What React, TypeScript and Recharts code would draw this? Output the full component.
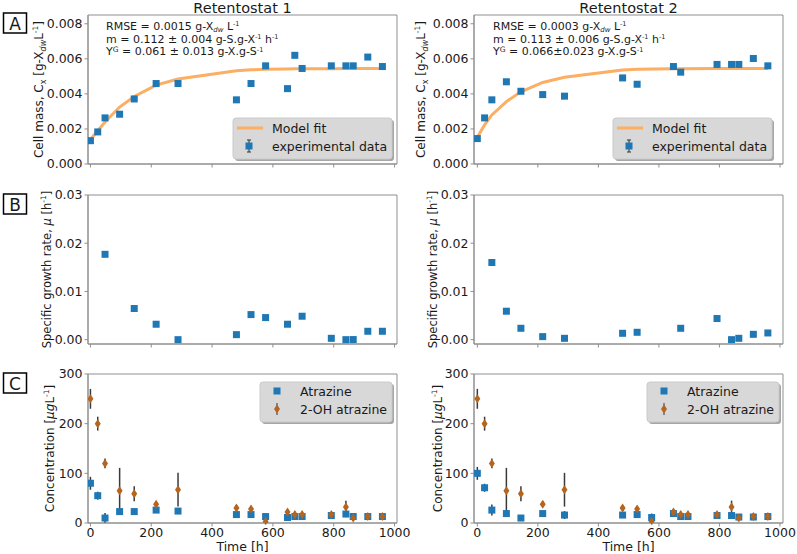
import React from 'react'
import { ComposedChart, Line, Scatter, XAxis, YAxis, ErrorBar, ReferenceArea } from 'recharts'

// sampling times [h]
const timesAll = [0, 24, 48, 96, 144, 216, 288, 480, 528, 576, 648, 672, 696, 792, 840, 864, 912, 960]
const timesA2 = [0, 24, 48, 96, 144, 216, 288, 480, 528, 648, 672, 792, 840, 864, 912, 960]
const timesB1 = [48, 144, 216, 288, 480, 528, 576, 648, 696, 792, 840, 864, 912, 960]
const timesB2 = [48, 96, 144, 216, 288, 480, 528, 672, 792, 840, 864, 912, 960]

// panel A: cell mass [g/L]
const cellMass1 = [0.00133, 0.00183, 0.00263, 0.00284, 0.00371, 0.00459, 0.00459, 0.00366, 0.00459, 0.0056, 0.0043, 0.0062, 0.00545, 0.0056, 0.0056, 0.0056, 0.0061, 0.00556]
const modelFit1 = [0.0014, 0.0019, 0.0024, 0.00325, 0.00385, 0.0045, 0.00485, 0.00532, 0.00537, 0.0054, 0.00542, 0.00543, 0.00543, 0.00544, 0.00545, 0.00545, 0.00545, 0.00545]
const cellMass2 = [0.00145, 0.00263, 0.00366, 0.00469, 0.00415, 0.00396, 0.00387, 0.00491, 0.00455, 0.00556, 0.00524, 0.00568, 0.00568, 0.00568, 0.00602, 0.0056]
const modelFit2 = [0.00152, 0.00223, 0.0028, 0.00356, 0.00412, 0.00465, 0.00495, 0.00536, 0.0054, 0.00543, 0.00544, 0.00545, 0.00545, 0.00545, 0.00545, 0.00545]

// panel B: specific growth rate [1/h]
const mu1 = [0.0177, 0.00646, 0.0032, 0.0, 0.00104, 0.0052, 0.00458, 0.0032, 0.00486, 0.00028, 0.0, 0.00002, 0.00174, 0.00174]
const mu2 = [0.016, 0.0059, 0.00236, 0.00063, 0.00028, 0.00132, 0.00153, 0.00236, 0.00438, 0.0, 0.00028, 0.00111, 0.00139]

// panel C: concentrations [ug/L]
const atrazine1 = [80, 55, 10, 23, 23, 26, 24, 17, 17, 13, 11, 13, 13, 15, 18, 13, 13, 13]
const atrazineErr1 = [13, 8, 10, 4, 6, 4, 4, 4, 4, 4, 3, 3, 3, 3, 4, 3, 3, 3]
const atrazine2 = [100, 71, 26, 19, 10, 19, 16, 16, 17, 11, 19, 13, 13, 15, 15, 12, 12, 13]
const atrazineErr2 = [13, 8, 11, 4, 5, 4, 8, 4, 4, 8, 4, 3, 3, 3, 3, 3, 3, 3]
const hydroxy = [250, 200, 120, 65, 59, 38, 67, 30, 28, 3, 22, 17, 17, 17, 32, 10, 13, 13]
const hydroxyErr = [20, 14, 10, 46, 15, 6, 34, 6, 6, 6, 6, 6, 6, 5, 13, 6, 6, 6]

const xTicks = [0, 200, 400, 600, 800, 1000]
const massTicks = [0, 0.002, 0.004, 0.006, 0.008]
const muTicks = [0, 0.01, 0.02, 0.03]
const concTicks = [0, 100, 200, 300]

const BLUE = '#1f77b4'
const BROWN = '#b5651d'
const FIT = '#fcae62'
const SPINE = '#8f8f8f'
const INK = '#1a1a1a'
const FONT = '"DejaVu Sans", sans-serif'

const pts = (xs: number[], ys: number[], es?: number[]) => xs.map((x, i) => ({ x, y: ys[i], err: es ? es[i] : 0 }))

const Square = (p: any) => <rect x={p.cx - 3.5} y={p.cy - 3.5} width={7} height={7} fill={BLUE} />
const Diamond = (p: any) => (
  <polygon points={`${p.cx},${p.cy - 4.5} ${p.cx + 3},${p.cy} ${p.cx},${p.cy + 4.5} ${p.cx - 3},${p.cy}`} fill={BROWN} />
)

const YW = 60
const MT = 10
const MR = 20
const XH = 30
const PW = 309
const PH = 149

type PanelProps = {
  left: number
  top: number
  xDomain: [number, number]
  yDomain: [number, number]
  yTicks: number[]
  yFmt: (v: number) => string
  showX: boolean
  children: React.ReactNode
}

const Panel = ({ left, top, xDomain, yDomain, yTicks, yFmt, showX, children }: PanelProps) => (
  <div style={{ position: 'absolute', left: left - YW, top: top - MT }}>
    <ComposedChart width={YW + PW + MR} height={MT + PH + XH} margin={{ top: MT, right: MR, bottom: 0, left: 0 }}>
      <XAxis
        type='number'
        dataKey='x'
        domain={xDomain}
        ticks={xTicks}
        interval={0}
        allowDataOverflow
        height={XH}
        stroke={SPINE}
        tickSize={3.5}
        tickMargin={2}
        tick={showX ? { fill: INK, fontSize: 12.5, fontFamily: FONT } : () => <g />}
      />
      <YAxis
        type='number'
        domain={yDomain}
        ticks={yTicks}
        interval={0}
        allowDataOverflow
        width={YW}
        stroke={SPINE}
        tickSize={3.5}
        tickMargin={2}
        tickFormatter={yFmt}
        tick={{ fill: INK, fontSize: 12.5, fontFamily: FONT }}
      />
      <ReferenceArea x1={xDomain[0]} x2={xDomain[1]} y1={yDomain[0]} y2={yDomain[1]} fill='none' stroke={SPINE} strokeWidth={1} ifOverflow='visible' />
      {children}
    </ComposedChart>
  </div>
)

const MassLabel = ({ x, y }: { x: number; y: number }) => (
  <text transform={`translate(${x},${y}) rotate(-90)`} textAnchor='middle' fontSize={12}>
    <tspan>Cell mass, C</tspan>
    <tspan dy={3} fontSize={8}>x</tspan>
    <tspan dy={-3}> [g-X</tspan>
    <tspan dy={3} fontSize={8} fontStyle='italic'>dw</tspan>
    <tspan dy={-3}>L</tspan>
    <tspan dy={-5} fontSize={7.5}>-1</tspan>
    <tspan dy={5}>]</tspan>
  </text>
)

const MuLabel = ({ x, y }: { x: number; y: number }) => (
  <text transform={`translate(${x},${y}) rotate(-90)`} textAnchor='middle' fontSize={11.5}>
    <tspan>Specific growth rate, </tspan>
    <tspan fontStyle='italic'>μ</tspan>
    <tspan> [h</tspan>
    <tspan dy={-5} fontSize={7.5}>-1</tspan>
    <tspan dy={5}>]</tspan>
  </text>
)

const ConcLabel = ({ x, y }: { x: number; y: number }) => (
  <text transform={`translate(${x},${y}) rotate(-90)`} textAnchor='middle' fontSize={12}>
    <tspan>Concentration [</tspan>
    <tspan fontStyle='italic'>μg</tspan>
    <tspan>L</tspan>
    <tspan dy={-5} fontSize={7.5}>-1</tspan>
    <tspan dy={5}>]</tspan>
  </text>
)

const Stats = ({ x, rmse, m, y }: { x: number; rmse: string; m: string; y: string }) => (
  <g fontSize={11}>
    <text x={x} y={30}>
      <tspan>RMSE = {rmse} g-X</tspan>
      <tspan dy={1.5} fontSize={7} fontStyle='italic'>dw</tspan>
      <tspan dy={-1.5}> L</tspan>
      <tspan dy={-4} fontSize={6.5}>-1</tspan>
    </text>
    <text x={x} y={42.5}>
      <tspan>m = {m} g-S.g-X</tspan>
      <tspan dy={-3.5} fontSize={6.5}>-1</tspan>
      <tspan dy={3.5}> h</tspan>
      <tspan dy={-3.5} fontSize={6.5}>-1</tspan>
    </text>
    <text x={x} y={55}>
      <tspan>Y</tspan>
      <tspan dy={-3.5} fontSize={7.5}>G</tspan>
      <tspan dy={3.5}> = {y} g-X.g-S</tspan>
      <tspan dy={-3.5} fontSize={6.5}>-1</tspan>
    </text>
  </g>
)

const LegendBox = ({ x, y, w, h }: { x: number; y: number; w: number; h: number }) => (
  <g>
    <rect x={x + 2} y={y + 2} width={w} height={h} rx={3} fill='#a6a6a6' />
    <rect x={x} y={y} width={w} height={h} rx={3} fill='#d8d8d8' stroke='#cacaca' />
  </g>
)

const FitLegend = ({ x, y }: { x: number; y: number }) => (
  <g fontSize={12.5}>
    <LegendBox x={x} y={y} w={159} h={41} />
    <line x1={x + 4} x2={x + 30} y1={y + 10} y2={y + 10} stroke={FIT} strokeWidth={3} />
    <text x={x + 39} y={y + 14.5}>Model fit</text>
    <line x1={x + 16} x2={x + 16} y1={y + 22} y2={y + 34} stroke='#333' strokeWidth={1} />
    <line x1={x + 14} x2={x + 18} y1={y + 22} y2={y + 22} stroke='#333' strokeWidth={1} />
    <line x1={x + 14} x2={x + 18} y1={y + 34} y2={y + 34} stroke='#333' strokeWidth={1} />
    <rect x={x + 12.5} y={y + 24.5} width={7} height={7} fill={BLUE} />
    <text x={x + 39} y={y + 33}>experimental data</text>
  </g>
)

const ConcLegend = ({ x, y }: { x: number; y: number }) => (
  <g fontSize={12.5}>
    <LegendBox x={x} y={y} w={132} h={40} />
    <rect x={x + 13.5} y={y + 5.5} width={7} height={7} fill={BLUE} />
    <text x={x + 40} y={y + 13.5}>Atrazine</text>
    <line x1={x + 17} x2={x + 17} y1={y + 21} y2={y + 33} stroke='#333' strokeWidth={1} />
    <polygon points={`${x + 17},${y + 22.5} ${x + 20},${y + 27} ${x + 17},${y + 31.5} ${x + 14},${y + 27}`} fill={BROWN} />
    <text x={x + 40} y={y + 31.5}>2-OH atrazine</text>
  </g>
)

const PanelTag = ({ y, label }: { y: number; label: string }) => (
  <g>
    <rect x={3.5} y={y} width={23} height={20} fill='white' stroke='#000' strokeWidth={1.5} />
    <text x={15} y={y + 16.5} textAnchor='middle' fontSize={17}>{label}</text>
  </g>
)

const fmt3 = (v: number) => v.toFixed(3)
const fmt2 = (v: number) => v.toFixed(2)
const fmt0 = (v: number) => String(v)

const L1 = 88
const L2 = 474
const TA = 15
const TB = 195
const TC = 374
const X1: [number, number] = [-8, 1008]
const X2: [number, number] = [-11, 1010]
const YA: [number, number] = [0, 0.0085]
const YB: [number, number] = [-0.0009, 0.03]
const YC: [number, number] = [0, 300]

export default function App() {
  return (
    <div style={{ position: 'absolute', left: 0, top: 0, width: 797, height: 554, background: 'white', fontFamily: FONT }}>
      <Panel left={L1} top={TA} xDomain={X1} yDomain={YA} yTicks={massTicks} yFmt={fmt3} showX={false}>
        <Line data={pts(timesAll, modelFit1)} dataKey='y' type='linear' stroke={FIT} strokeWidth={3} dot={false} isAnimationActive={false} />
        <Scatter data={pts(timesAll, cellMass1)} dataKey='y' shape={Square} isAnimationActive={false} />
      </Panel>
      <Panel left={L2} top={TA} xDomain={X2} yDomain={YA} yTicks={massTicks} yFmt={fmt3} showX={false}>
        <Line data={pts(timesA2, modelFit2)} dataKey='y' type='linear' stroke={FIT} strokeWidth={3} dot={false} isAnimationActive={false} />
        <Scatter data={pts(timesA2, cellMass2)} dataKey='y' shape={Square} isAnimationActive={false} />
      </Panel>
      <Panel left={L1} top={TB} xDomain={X1} yDomain={YB} yTicks={muTicks} yFmt={fmt2} showX={false}>
        <Scatter data={pts(timesB1, mu1)} dataKey='y' shape={Square} isAnimationActive={false} />
      </Panel>
      <Panel left={L2} top={TB} xDomain={X2} yDomain={YB} yTicks={muTicks} yFmt={fmt2} showX={false}>
        <Scatter data={pts(timesB2, mu2)} dataKey='y' shape={Square} isAnimationActive={false} />
      </Panel>
      <Panel left={L1} top={TC} xDomain={X1} yDomain={YC} yTicks={concTicks} yFmt={fmt0} showX>
        <Scatter data={pts(timesAll, atrazine1, atrazineErr1)} dataKey='y' shape={Square} isAnimationActive={false}>
          <ErrorBar dataKey='err' direction='y' width={0} stroke='#3a3a3a' strokeWidth={1.5} />
        </Scatter>
        <Scatter data={pts(timesAll, hydroxy, hydroxyErr)} dataKey='y' shape={Diamond} isAnimationActive={false}>
          <ErrorBar dataKey='err' direction='y' width={0} stroke='#3a3a3a' strokeWidth={1.5} />
        </Scatter>
      </Panel>
      <Panel left={L2} top={TC} xDomain={X2} yDomain={YC} yTicks={concTicks} yFmt={fmt0} showX>
        <Scatter data={pts(timesAll, atrazine2, atrazineErr2)} dataKey='y' shape={Square} isAnimationActive={false}>
          <ErrorBar dataKey='err' direction='y' width={0} stroke='#3a3a3a' strokeWidth={1.5} />
        </Scatter>
        <Scatter data={pts(timesAll, hydroxy, hydroxyErr)} dataKey='y' shape={Diamond} isAnimationActive={false}>
          <ErrorBar dataKey='err' direction='y' width={0} stroke='#3a3a3a' strokeWidth={1.5} />
        </Scatter>
      </Panel>

      <svg width={797} height={554} style={{ position: 'absolute', left: 0, top: 0, pointerEvents: 'none' }} fill={INK} fontFamily={FONT}>
        <text x={L1 + PW / 2} y={13} textAnchor='middle' fontSize={14.5}>Retentostat 1</text>
        <text x={L2 + PW / 2} y={13} textAnchor='middle' fontSize={14.5}>Retentostat 2</text>

        <PanelTag y={13} label='A' />
        <PanelTag y={194} label='B' />
        <PanelTag y={373} label='C' />

        <MassLabel x={43} y={TA + PH / 2} />
        <MassLabel x={425} y={TA + PH / 2} />
        <MuLabel x={51} y={TB + PH / 2} />
        <MuLabel x={437} y={TB + PH / 2} />
        <ConcLabel x={54} y={TC + PH / 2} />
        <ConcLabel x={442} y={TC + PH / 2} />

        <Stats x={106} rmse='0.0015' m='0.112 ± 0.004' y='0.061 ± 0.013' />
        <Stats x={493} rmse='0.0003' m='0.113 ± 0.006' y='0.066±0.023' />

        <FitLegend x={233} y={118} />
        <FitLegend x={613} y={118} />
        <ConcLegend x={260} y={382} />
        <ConcLegend x={647} y={382} />

        <text x={L1 + PW / 2} y={551} textAnchor='middle' fontSize={12.5}>Time [h]</text>
        <text x={L2 + PW / 2} y={551} textAnchor='middle' fontSize={12.5}>Time [h]</text>
      </svg>
    </div>
  )
}
